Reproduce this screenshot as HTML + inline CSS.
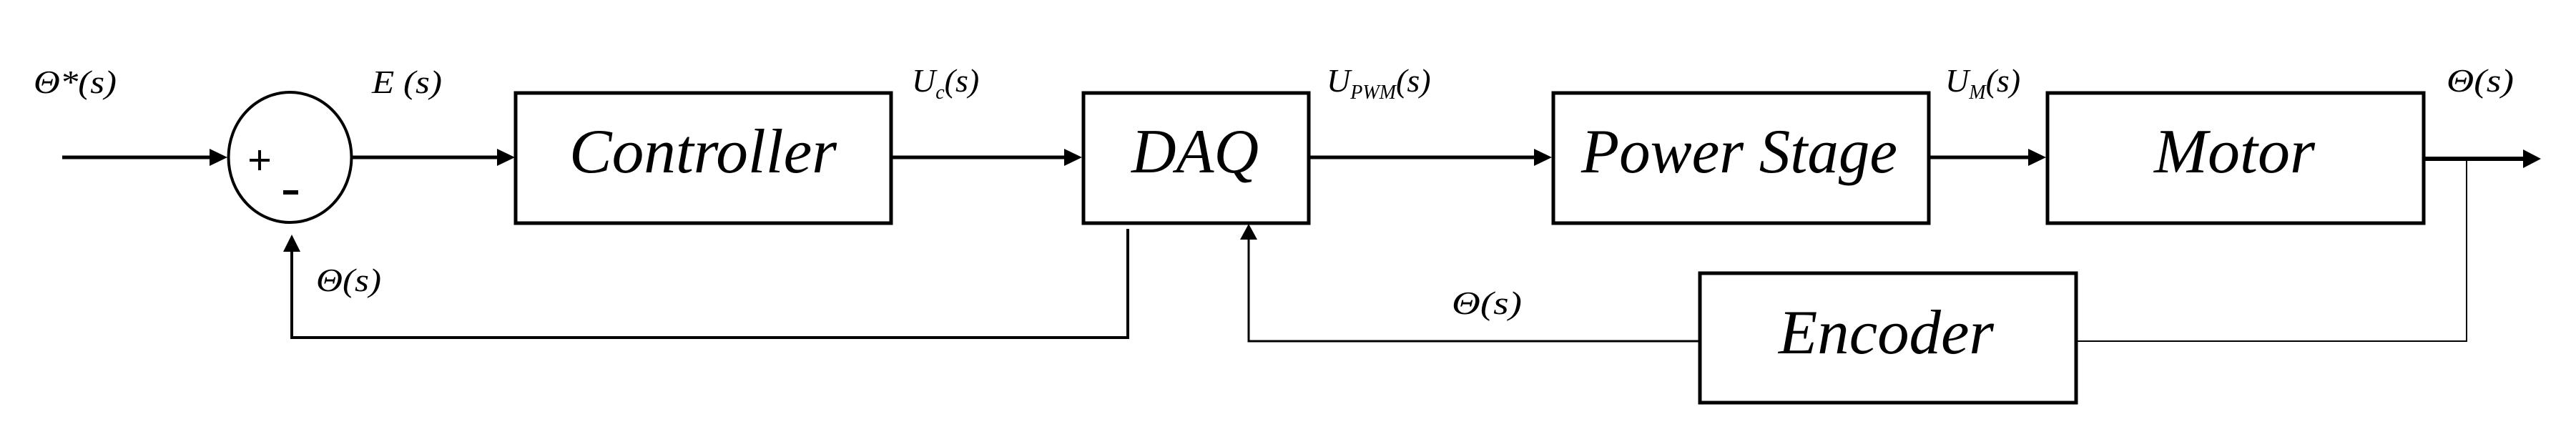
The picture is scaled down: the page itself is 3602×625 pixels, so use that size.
<!DOCTYPE html>
<html><head><meta charset="utf-8"><style>
html,body{margin:0;padding:0;background:#fff;}
svg{display:block;}
text{font-family:"Liberation Serif",serif;font-style:italic;fill:#000;}
</style></head><body>
<svg width="3602" height="625" viewBox="0 0 3602 625" xmlns="http://www.w3.org/2000/svg">
<g fill="none" stroke="#000" stroke-width="5">
<rect x="721" y="130" width="525" height="182"/>
<rect x="1515" y="130" width="315" height="182"/>
<rect x="2172" y="130" width="525" height="182"/>
<rect x="2863" y="130" width="526" height="182"/>
<rect x="2377" y="382" width="526" height="181"/>
</g>
<ellipse cx="405.5" cy="220" rx="86" ry="91" fill="none" stroke="#000" stroke-width="4"/>
<g stroke="#000" fill="none">
<line x1="87" y1="220" x2="300" y2="220" stroke-width="5"/>
<line x1="493" y1="220" x2="700" y2="220" stroke-width="5"/>
<line x1="1246" y1="220" x2="1495" y2="220" stroke-width="5"/>
<line x1="1830" y1="220" x2="2152" y2="220" stroke-width="5"/>
<line x1="2697" y1="220" x2="2843" y2="220" stroke-width="5"/>
<line x1="3389" y1="222" x2="3530" y2="222" stroke-width="6"/>
<polyline points="1577,320 1577,472 408,472 408,350" stroke-width="4"/>
<polyline points="3449,222 3449,477 2903,477" stroke-width="2"/>
<polyline points="2377,477 1746,477 1746,333" stroke-width="3"/>
</g>
<g fill="#000">
<polygon points="318,220 293,208 293,232"/>
<polygon points="720,220 695,208 695,232"/>
<polygon points="1513,220 1488,208 1488,232"/>
<polygon points="2170,220 2145,208 2145,232"/>
<polygon points="2861,220 2836,208 2836,232"/>
<polygon points="3553,222 3528,209 3528,235"/>
<polygon points="408,328 396,352 420,352"/>
<polygon points="1746,313 1734,335 1758,335"/>
<rect x="349" y="222" width="28" height="4"/>
<rect x="361" y="210" width="4" height="28"/>
<rect x="396" y="266" width="21" height="6"/>
</g>
<g font-size="88">
<text x="796" y="241" textLength="374" lengthAdjust="spacingAndGlyphs">Controller</text>
<text x="1582" y="241" textLength="178" lengthAdjust="spacingAndGlyphs">DAQ</text>
<text x="2211" y="241" textLength="442" lengthAdjust="spacingAndGlyphs">Power Stage</text>
<text x="3012" y="241" textLength="225" lengthAdjust="spacingAndGlyphs">Motor</text>
<text x="2487" y="494" textLength="301" lengthAdjust="spacingAndGlyphs">Encoder</text>
</g>
<g font-size="46">
<text x="47" y="130" textLength="116" lengthAdjust="spacingAndGlyphs">Θ*(s)</text>
<text x="520" y="130" textLength="98" lengthAdjust="spacingAndGlyphs">E (s)</text>
<text x="1275" y="128">U<tspan font-size="28" dy="10">c</tspan><tspan dy="-10">(s)</tspan></text>
<text x="1855" y="128">U<tspan font-size="28" dy="10">PWM</tspan><tspan dy="-10">(s)</tspan></text>
<text x="2720" y="128">U<tspan font-size="28" dy="10">M</tspan><tspan dy="-10">(s)</tspan></text>
<text x="3421" y="128" textLength="94" lengthAdjust="spacingAndGlyphs">Θ(s)</text>
<text x="442" y="407" textLength="91" lengthAdjust="spacingAndGlyphs">Θ(s)</text>
<text x="2030" y="439" textLength="98" lengthAdjust="spacingAndGlyphs">Θ(s)</text>
</g>
</svg>
</body></html>
